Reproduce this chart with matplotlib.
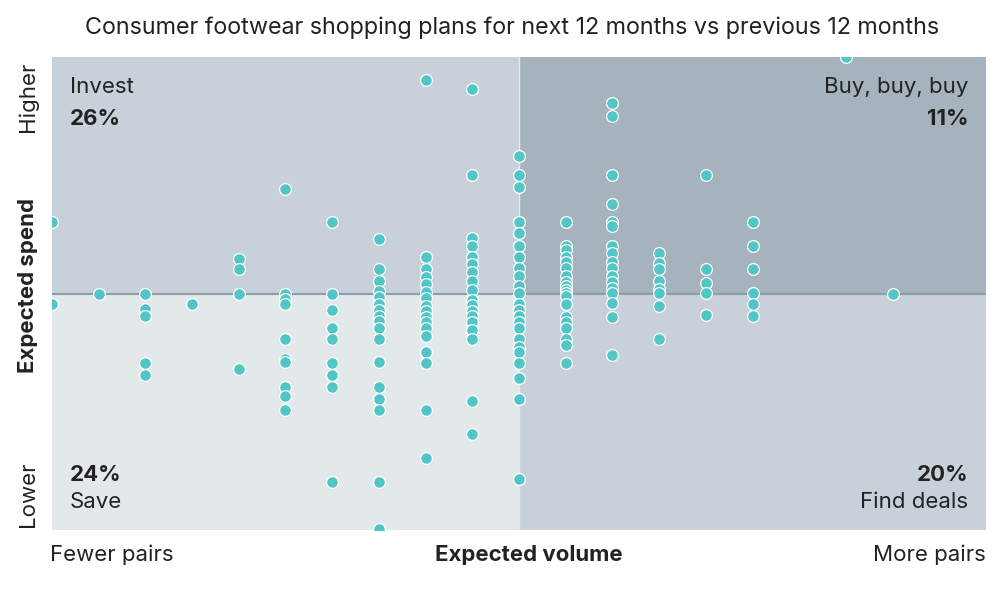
import matplotlib
matplotlib.use("Agg")
import matplotlib.pyplot as plt

plt.rcParams["font.family"] = ["Inter", "DejaVu Sans"]

# expected volume columns (fewer -> more pairs) and expected spend values per column
vol_cols = [-10, -9, -8, -7, -6, -5, -4, -3, -2, -1, 0, 1, 2, 3, 4, 5, 7, 8]
spend_by_col = [
    [3.02, -0.44],
    [0.0],
    [0.0, -0.66, -0.95, -2.94, -3.45],
    [-0.44],
    [1.46, 1.04, 0.0, -3.19],
    [4.42, 0.0, -0.23, -0.44, -1.92, -2.77, -2.89, -3.95, -4.33, -4.93],
    [3.02, 0.0, -0.70, -1.46, -1.92, -2.94, -3.45, -3.95, -7.97],
    [2.30, 1.04, 0.53, 0.11, -0.15, -0.44, -0.70, -0.95, -1.16, -1.46, -1.92,
     -2.89, -3.95, -4.46, -4.93, -7.97, -9.96],
    [9.03, 1.54, 1.04, 0.70, 0.40, 0.06, -0.19, -0.53, -0.74, -0.99, -1.21,
     -1.46, -1.80, -2.47, -2.94, -4.93, -6.96],
    [8.65, 5.01, 2.35, 2.01, 1.54, 1.25, 0.91, 0.53, 0.15, -0.27, -0.49, -0.74,
     -0.95, -1.21, -1.54, -1.92, -4.55, -5.94],
    [5.81, 5.01, 4.50, 3.02, 2.56, 2.01, 1.54, 1.08, 0.74, 0.32, 0.02, -0.44,
     -0.70, -0.95, -1.21, -1.46, -1.92, -2.26, -2.47, -2.94, -3.57, -4.46, -7.84],
    [3.02, 2.01, 1.84, 1.54, 1.33, 1.08, 0.74, 0.49, 0.32, 0.15, 0.02, -0.11,
     -0.44, -0.99, -1.21, -1.46, -1.92, -2.18, -2.94],
    [8.06, 7.51, 5.01, 3.78, 3.02, 2.85, 2.01, 1.71, 1.33, 1.08, 0.74, 0.49,
     0.23, 0.02, -0.40, -0.99, -2.60],
    [1.71, 1.29, 1.04, 0.53, 0.19, 0.02, -0.53, -1.92],
    [5.01, 1.04, 0.44, 0.02, -0.91],
    [3.02, 2.01, 1.04, 0.02, -0.44, -0.95],
    [10.0],
    [0.0],
]

quadrant_names = ["Invest", "Buy, buy, buy", "Save", "Find deals"]
quadrant_shares = ["26%", "11%", "24%", "20%"]

x = []
y = []
for col, vals in zip(vol_cols, spend_by_col):
    for v in vals:
        x.append(col)
        y.append(v)

fig = plt.figure(figsize=(10, 5.94), dpi=100)
ax = fig.add_axes([0.052, 0.1077, 0.934, 0.7963])
ax.set_xlim(-10, 10)
ax.set_ylim(-10, 10)

# quadrant backgrounds
ax.axvspan(-10, 0, ymin=0.5, ymax=1, color="#c8d1d9", lw=0, zorder=0)
ax.axvspan(0, 10, ymin=0.5, ymax=1, color="#a6b3bd", lw=0, zorder=0)
ax.axvspan(-10, 0, ymin=0, ymax=0.5, color="#e3e8eb", lw=0, zorder=0)
ax.axvspan(0, 10, ymin=0, ymax=0.5, color="#c8d1d9", lw=0, zorder=0)
ax.axhline(0, color="#8d9eab", lw=1.5, zorder=1)
ax.axvline(0, color="#e6eaed", lw=1, zorder=1)

ax.scatter(x, y, s=72, color="#52c5c6", edgecolor="white", linewidth=0.9, zorder=3)

for s in ax.spines.values():
    s.set_visible(False)
ax.set_xticks([])
ax.set_yticks([])

tc = "#222222"
fs = 16
ax.text(0.019, 0.937, quadrant_names[0], transform=ax.transAxes, fontsize=fs,
        color=tc, ha="left", va="center")
ax.text(0.019, 0.87, quadrant_shares[0], transform=ax.transAxes, fontsize=fs,
        color=tc, ha="left", va="center", fontweight="bold")
ax.text(0.981, 0.937, quadrant_names[1], transform=ax.transAxes, fontsize=fs,
        color=tc, ha="right", va="center")
ax.text(0.981, 0.87, quadrant_shares[1], transform=ax.transAxes, fontsize=fs,
        color=tc, ha="right", va="center", fontweight="bold")
ax.text(0.019, 0.117, quadrant_shares[2], transform=ax.transAxes, fontsize=fs,
        color=tc, ha="left", va="center", fontweight="bold")
ax.text(0.019, 0.06, quadrant_names[2], transform=ax.transAxes, fontsize=fs,
        color=tc, ha="left", va="center")
ax.text(0.981, 0.117, quadrant_shares[3], transform=ax.transAxes, fontsize=fs,
        color=tc, ha="right", va="center", fontweight="bold")
ax.text(0.981, 0.06, quadrant_names[3], transform=ax.transAxes, fontsize=fs,
        color=tc, ha="right", va="center")

fig.text(0.512, 0.954, "Consumer footwear shopping plans for next 12 months vs previous 12 months",
         ha="center", va="center", fontsize=16.8, color=tc)

fig.text(0.05, 0.066, "Fewer pairs", ha="left", va="center", fontsize=fs, color=tc)
fig.text(0.529, 0.066, "Expected volume", ha="center", va="center", fontsize=fs,
         color=tc, fontweight="bold")
fig.text(0.986, 0.066, "More pairs", ha="right", va="center", fontsize=fs, color=tc)
fig.text(0.028, 0.837, "Higher", ha="center", va="center", rotation=90, fontsize=fs, color=tc)
fig.text(0.028, 0.52, "Expected spend", ha="center", va="center", rotation=90,
         fontsize=fs, color=tc, fontweight="bold")
fig.text(0.028, 0.168, "Lower", ha="center", va="center", rotation=90, fontsize=fs, color=tc)

fig.savefig("out.png", dpi=100)
